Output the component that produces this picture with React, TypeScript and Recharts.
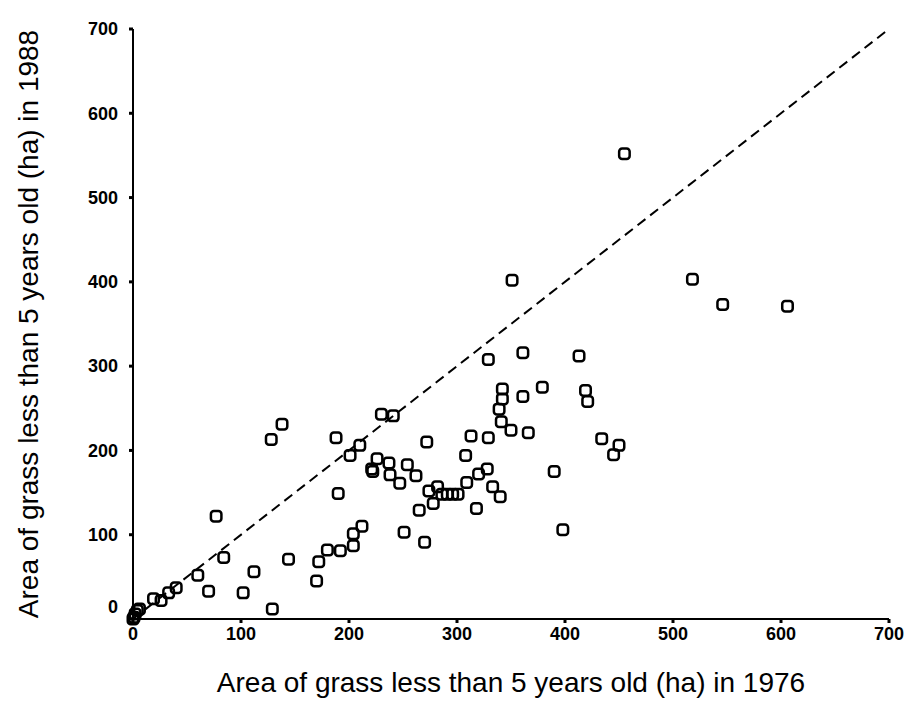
import { ReferenceLine, Scatter, ScatterChart, XAxis, YAxis } from 'recharts'

// grassland under 5 years old, per parish: hectares in 1976 vs 1988
const area1976 = [
  0, 1, 2, 4, 6, 19, 26, 33, 40, 60, 70, 77, 84, 102, 112, 128, 129, 138, 144,
  170, 172, 180, 188, 190, 192, 201, 204, 204, 210, 212, 221, 222, 226, 230, 237, 238, 241,
  247, 251, 254, 262, 265, 270, 272, 274, 278, 282, 286, 291, 296, 301,
  308, 309, 313, 318, 320, 328, 329, 329, 333, 340, 339, 341, 342, 342, 350, 351,
  361, 361, 366, 379, 390, 398, 413, 419, 421, 434, 445, 450, 455, 518, 546, 606,
]
const area1988 = [
  0, 2, 6, 10, 12, 24, 22, 31, 37, 52, 33, 122, 73, 31, 56, 213, 12, 231, 71,
  45, 68, 82, 215, 149, 81, 194, 101, 87, 206, 110, 178, 175, 190, 243, 185, 171, 241,
  161, 103, 183, 170, 129, 91, 210, 152, 137, 157, 148, 148, 148, 148,
  194, 162, 217, 131, 172, 178, 215, 308, 157, 145, 249, 234, 261, 273, 224, 402,
  264, 316, 221, 275, 175, 106, 312, 271, 258, 214, 195, 206, 552, 403, 373, 371,
]
const axisTicks = [0, 100, 200, 300, 400, 500, 600, 700]

const points = area1976.map((x, i) => ({ x, y: area1988[i] }))

const font = '"Liberation Sans", Arial, sans-serif'

function SquareDot(props: any) {
  const { cx, cy } = props
  if (cx == null || cy == null) return null
  const s = 10.5
  return (
    <rect x={cx - s / 2} y={cy - s / 2} width={s} height={s} rx={3} fill="none" stroke="#000" strokeWidth={2.5} />
  )
}

// the "0" on the y axis sits a little above its tick
function YTick(props: any) {
  const { x, y, payload } = props
  const lift = payload.value === 0 ? -12 : 0
  return (
    <text
      x={x}
      y={y + lift}
      dy="0.35em"
      textAnchor="end"
      fontFamily={font}
      fontSize={18}
      fontWeight="bold"
      fill="#000"
    >
      {payload.value}
    </text>
  )
}

export default function App() {
  return (
    <div style={{ position: 'absolute', left: 0, top: 0, background: '#fff' }}>
      <ScatterChart width={911} height={716} margin={{ top: 29, right: 22, left: 0, bottom: 0 }}>
        <XAxis
          type="number"
          dataKey="x"
          domain={[0, 700]}
          ticks={axisTicks}
          height={97}
          tickSize={4}
          tickMargin={4}
          axisLine={{ stroke: '#000', strokeWidth: 2 }}
          tickLine={{ stroke: '#000', strokeWidth: 3 }}
          tick={{ fill: '#000', fontSize: 18, fontWeight: 'bold', fontFamily: font }}
          label={{
            value: 'Area of grass less than 5 years old (ha) in 1976',
            position: 'insideBottom',
            offset: 24,
            style: { fill: '#000', fontSize: 28, fontFamily: font },
          }}
        />
        <YAxis
          type="number"
          dataKey="y"
          domain={[0, 700]}
          ticks={axisTicks}
          width={133}
          tickSize={4}
          tickMargin={11}
          axisLine={{ stroke: '#000', strokeWidth: 2 }}
          tickLine={{ stroke: '#000', strokeWidth: 3 }}
          tick={<YTick />}
          label={{
            value: 'Area of grass less than 5 years old (ha) in 1988',
            angle: -90,
            position: 'insideLeft',
            offset: 28,
            style: { fill: '#000', fontSize: 28, fontFamily: font, textAnchor: 'middle' },
          }}
        />
        <ReferenceLine
          segment={[
            { x: 0, y: 0 },
            { x: 700, y: 700 },
          ]}
          stroke="#000"
          strokeWidth={2}
          strokeDasharray="10 6"
        />
        <Scatter data={points} shape={SquareDot} isAnimationActive={false} />
      </ScatterChart>
    </div>
  )
}
